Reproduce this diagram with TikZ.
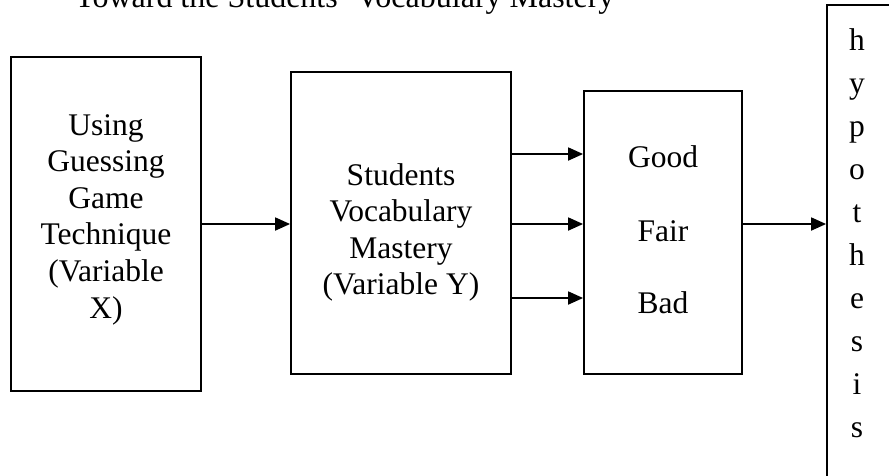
\documentclass[tikz,border=0pt]{standalone}
\usepackage{fontspec}
\setmainfont{Liberation Serif}
\usetikzlibrary{arrows.meta,calc}
\begin{document}
\begin{tikzpicture}[x=1pt,y=-1pt,
  boxnode/.style={draw=black,line width=1.8pt,inner sep=0pt,fill=none},
  txt/.style={inner sep=0pt,font=\fontsize{31.5}{36.6}\selectfont},
  arr/.style={line width=1.8pt,-{Triangle[length=15pt,width=13pt]}}]
\useasboundingbox (0,0) rectangle (889,475);
\clip (0,0) rectangle (889,475);
% title (cut at the top, as in the reference)
\node[txt,anchor=base west,font=\fontsize{32}{38}\selectfont] (title) at (75,7) {Toward the Students' Vocabulary Mastery};
% boxes
\node[boxnode,minimum width=190pt,minimum height=334pt] (A) at (106,224) {};
\node[boxnode,minimum width=220pt,minimum height=302pt] (B) at (401,223) {};
\node[boxnode,minimum width=158pt,minimum height=283pt] (C) at (663,232.5) {};
\node[boxnode,minimum width=140pt,minimum height=540pt] (H) at (897,275) {};
% texts
\node[txt,anchor=base] (At) at (106,135) {\begin{tabular}[t]{@{}c@{}}Using\\Guessing\\Game\\Technique\\(Variable\\X)\end{tabular}};
\node[txt,anchor=base] (Bt) at (401,185) {\begin{tabular}[t]{@{}c@{}}Students\\Vocabulary\\Mastery\\(Variable Y)\end{tabular}};
\node[txt,anchor=base] (good) at (663,167) {Good};
\node[txt,anchor=base] (fair) at (663,241) {Fair};
\node[txt,anchor=base] (bad) at (663,313) {Bad};
\node[txt,anchor=base,font=\fontsize{31.5}{43}\selectfont] (Ht) at (857,50) {\begin{tabular}[t]{@{}c@{}}h\\y\\p\\o\\t\\h\\e\\s\\i\\s\end{tabular}};
% row heights of the arrows
\coordinate (r1) at (0,154);
\coordinate (r2) at (0,224);
\coordinate (r3) at (0,298);
% connectors
\draw[arr] (A.east) -- (A.east -| B.west);
\draw[arr] (B.east |- r1) -- (C.west |- r1);
\draw[arr] (B.east |- r2) -- (C.west |- r2);
\draw[arr] (B.east |- r3) -- (C.west |- r3);
\draw[arr] (C.east |- r2) -- (H.west |- r2);
\end{tikzpicture}
\end{document}
